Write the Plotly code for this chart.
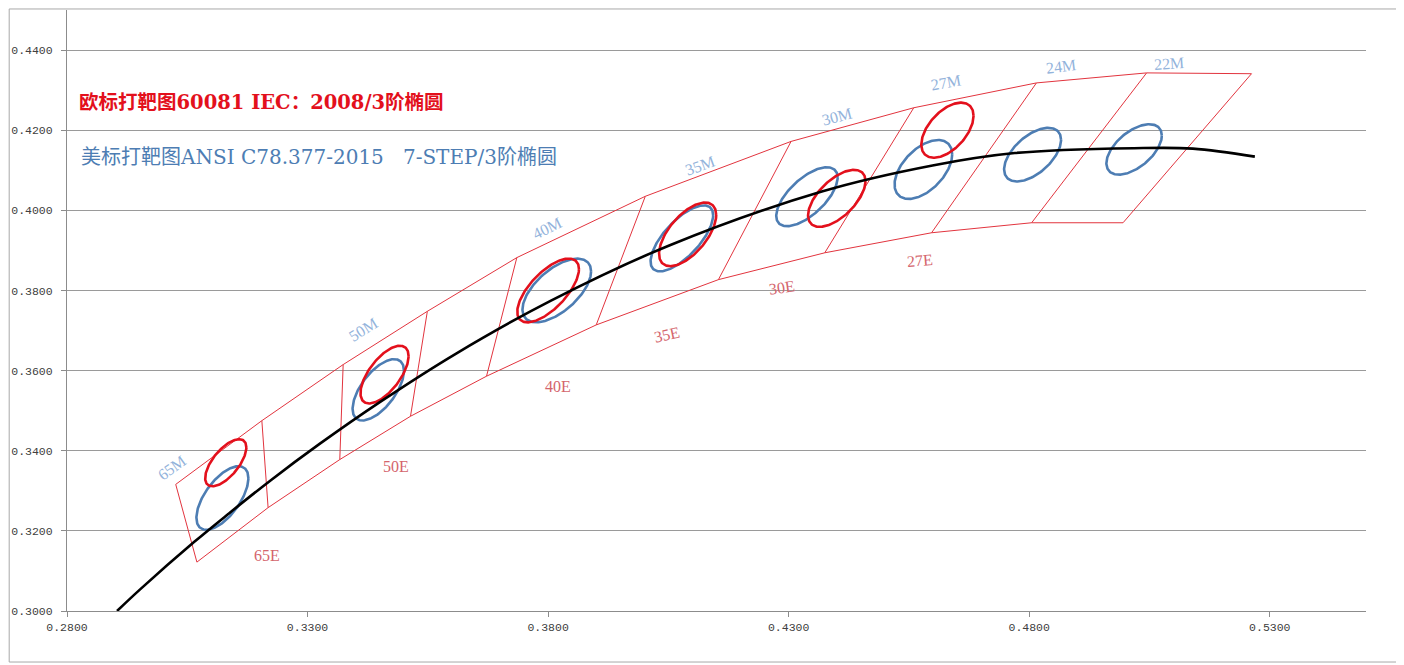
import numpy as np
import plotly.graph_objects as go

# ---------------- data ----------------
x_ticks = [0.28, 0.33, 0.38, 0.43, 0.48, 0.53]
x_tick_labels = ["0.2800", "0.3300", "0.3800", "0.4300", "0.4800", "0.5300"]
y_ticks = [0.30, 0.32, 0.34, 0.36, 0.38, 0.40, 0.42, 0.44]
y_tick_labels = ["0.3000", "0.3200", "0.3400", "0.3600", "0.3800", "0.4000", "0.4200", "0.4400"]

# black-body (Planckian) locus
planck_x = [0.2904, 0.2952, 0.3064, 0.3135, 0.3221, 0.3325, 0.3451, 0.3608,
            0.3805, 0.4053, 0.4369, 0.4599, 0.4770, 0.5018, 0.5140, 0.5269]
planck_y = [0.3000, 0.3054, 0.3172, 0.3242, 0.3324, 0.3417, 0.3522, 0.3642,
            0.3774, 0.3913, 0.4047, 0.4112, 0.4143, 0.4155, 0.4154, 0.4134]

# quadrangle divider lines (top / bottom end points)
div_top_x = [0.3026, 0.3205, 0.3374, 0.3549, 0.3735, 0.4002, 0.4305, 0.4560, 0.4815, 0.5044, 0.5262]
div_top_y = [0.3316, 0.3475, 0.3615, 0.3748, 0.3882, 0.4035, 0.4172, 0.4256, 0.4318, 0.4343, 0.4341]
div_bot_x = [0.3070, 0.3218, 0.3367, 0.3514, 0.3672, 0.3900, 0.4154, 0.4375, 0.4597, 0.4805, 0.4995]
div_bot_y = [0.3122, 0.3258, 0.3378, 0.3486, 0.3586, 0.3714, 0.3827, 0.3894, 0.3944, 0.3969, 0.3969]

# ANSI C78.377 ellipses (blue): centre, half width, half height, x-y correlation
ansi_cx = [0.3123, 0.3447, 0.3818, 0.4078, 0.4338, 0.4580, 0.4807, 0.5018]
ansi_cy = [0.3282, 0.3552, 0.3800, 0.3930, 0.4034, 0.4102, 0.4139, 0.4152]
ansi_hw = [0.00540, 0.00534, 0.00713, 0.00650, 0.00638, 0.00599, 0.00592, 0.00576]
ansi_hh = [0.00794, 0.00766, 0.00794, 0.00824, 0.00736, 0.00736, 0.00669, 0.00629]
ansi_rho = [0.62, 0.62, 0.60, 0.70, 0.65, 0.51, 0.55, 0.55]

# IEC 60081 3-step ellipses (red)
iec_cx = [0.313, 0.346, 0.380, 0.409, 0.440, 0.463]
iec_cy = [0.337, 0.359, 0.380, 0.394, 0.403, 0.420]
iec_hw = [0.00428, 0.00500, 0.00641, 0.00594, 0.00597, 0.00543]
iec_hh = [0.00588, 0.00720, 0.00796, 0.00794, 0.00711, 0.00688]
iec_rho = [0.65, 0.64, 0.67, 0.61, 0.60, 0.52]

# quadrangle labels
m_labels = ["65M", "50M", "40M", "35M", "30M", "27M", "24M", "22M"]
m_x = [0.3019, 0.3416, 0.3797, 0.4116, 0.4401, 0.4627, 0.4866, 0.5090]
m_y = [0.3357, 0.3703, 0.3955, 0.4111, 0.4233, 0.4318, 0.4358, 0.4366]
m_angle = [-36, -32, -26, -20, -15, -10, -7, -4]

e_labels = ["65E", "50E", "40E", "35E", "30E", "27E"]
e_x = [0.3215, 0.3483, 0.3821, 0.4048, 0.4287, 0.4572]
e_y = [0.3139, 0.3360, 0.3561, 0.3690, 0.3807, 0.3875]
e_angle = [0, 0, 0, -12, -8, -5]

title_red = "欧标打靶图60081 IEC：2008/3阶椭圆"
title_blue = "美标打靶图ANSI C78.377-2015   7-STEP/3阶椭圆"

# ---------------- figure ----------------
RED = "#e3101c"
BLUE = "#4d7db3"
QUAD = "rgb(226,52,62)"

fig = go.Figure()

# quadrangles
qx, qy = [], []
qx += div_top_x + [None]
qy += div_top_y + [None]
qx += div_bot_x + [None]
qy += div_bot_y + [None]
for i in range(len(div_top_x)):
    qx += [div_top_x[i], div_bot_x[i], None]
    qy += [div_top_y[i], div_bot_y[i], None]
fig.add_trace(go.Scatter(x=qx, y=qy, mode="lines", line=dict(color=QUAD, width=1),
                         hoverinfo="skip"))

t = np.linspace(0, 2 * np.pi, 181)


def ellipse(cx, cy, hw, hh, rho):
    ex = cx + hw * np.cos(t)
    ey = cy + hh * (rho * np.cos(t) + np.sqrt(1 - rho ** 2) * np.sin(t))
    return ex, ey


for cx, cy, hw, hh, r in zip(ansi_cx, ansi_cy, ansi_hw, ansi_hh, ansi_rho):
    ex, ey = ellipse(cx, cy, hw, hh, r)
    fig.add_trace(go.Scatter(x=ex, y=ey, mode="lines", line=dict(color=BLUE, width=2.6),
                             hoverinfo="skip"))

for cx, cy, hw, hh, r in zip(iec_cx, iec_cy, iec_hw, iec_hh, iec_rho):
    ex, ey = ellipse(cx, cy, hw, hh, r)
    fig.add_trace(go.Scatter(x=ex, y=ey, mode="lines", line=dict(color=RED, width=2.6),
                             hoverinfo="skip"))

fig.add_trace(go.Scatter(x=planck_x, y=planck_y, mode="lines",
                         line=dict(color="black", width=2.6, shape="spline", smoothing=1.0),
                         hoverinfo="skip"))

LABEL_FONT = "Liberation Serif, Noto Sans CJK SC, serif"
for txt, x, y, a in zip(m_labels, m_x, m_y, m_angle):
    fig.add_annotation(x=x, y=y, text=txt, showarrow=False, textangle=a,
                       font=dict(family=LABEL_FONT, size=16, color="#93b3db"))
for txt, x, y, a in zip(e_labels, e_x, e_y, e_angle):
    fig.add_annotation(x=x, y=y, text=txt, showarrow=False, textangle=a,
                       font=dict(family=LABEL_FONT, size=16, color="#d4646c"))

TITLE_FONT = "DejaVu Serif, Noto Sans CJK SC, serif"
fig.add_annotation(x=0.2820, y=0.4269, xanchor="left", yanchor="middle",
                   text="<b>" + title_red + "</b>",
                   showarrow=False, font=dict(family=TITLE_FONT, size=19.5, color=RED))
fig.add_annotation(x=0.2825, y=0.4134, xanchor="left", yanchor="middle", text=title_blue,
                   showarrow=False, font=dict(family=TITLE_FONT, size=20, color=BLUE))

# outer chart border
fig.add_shape(type="rect", xref="paper", yref="paper", x0=-0.0445, x1=1.0254,
              y0=-0.0849, y1=1.0017, line=dict(color="#a8a8a8", width=1))

TICK_FONT = dict(family="Liberation Mono, DejaVu Sans Mono, monospace", size=11.5, color="#404040")
fig.update_layout(
    width=1404, height=665,
    margin=dict(l=59, r=46, t=2, b=62),
    paper_bgcolor="white", plot_bgcolor="white",
    showlegend=False,
    xaxis=dict(range=[0.28, 0.55], tickvals=x_ticks, ticktext=x_tick_labels,
               showgrid=False, zeroline=False, showline=True, linecolor="#8c8c8c",
               linewidth=1, ticks="outside", ticklen=5, tickcolor="#8c8c8c",
               tickfont=TICK_FONT),
    yaxis=dict(range=[0.30, 0.45], tickvals=y_ticks, ticktext=y_tick_labels,
               showgrid=True, gridcolor="#9a9a9a", gridwidth=1, zeroline=False,
               showline=True, linecolor="#8c8c8c", linewidth=1, ticks="outside",
               ticklen=5, tickcolor="#8c8c8c", tickfont=TICK_FONT, ticklabelstandoff=6),
)

fig.write_html("out.html")
